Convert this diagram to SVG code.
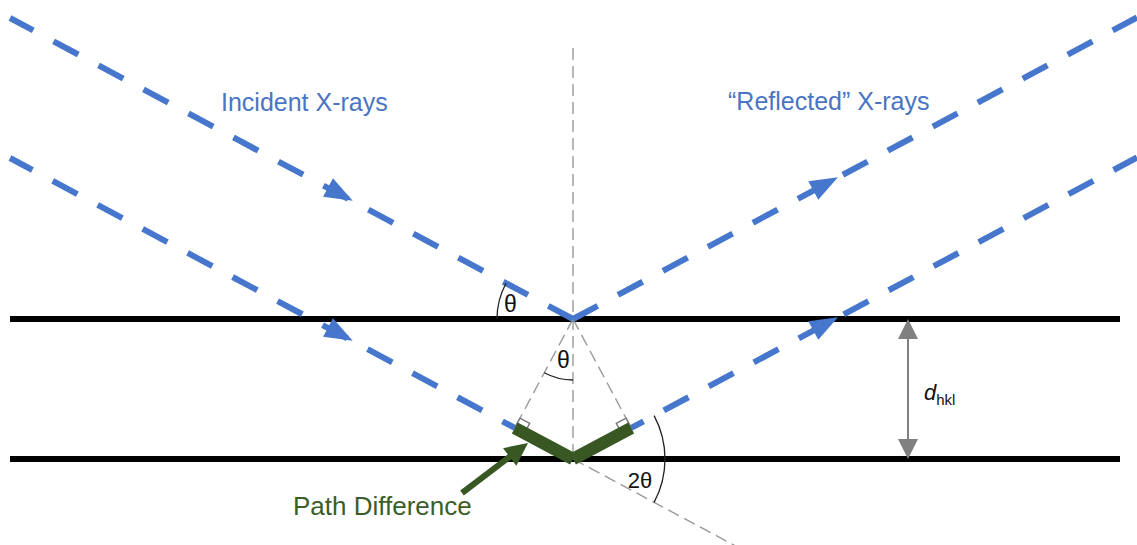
<svg xmlns="http://www.w3.org/2000/svg" width="1137" height="545" viewBox="0 0 1137 545">
<style>
.ray{fill:none;stroke:#4677CD;stroke-width:6;stroke-dasharray:28 23}
.plane{stroke:#000;stroke-width:6}
.guide{fill:none;stroke:#9a9a9a;stroke-width:1.4;stroke-dasharray:12 6}
.arc{fill:none;stroke:#222;stroke-width:1.3}
.lbl{font-family:"Liberation Sans",Arial,sans-serif}
.blue{fill:#4A74C4;font-size:25px}
.th{fill:#111;font-size:23px}
.green{fill:#3B5E27}
</style>
<defs>
<polygon id="ah" points="0,0 -28,-10.5 -28,10.5" fill="#4677CD"/>
</defs>
<rect width="1137" height="545" fill="#fff"/>
<g id="planes">
<line class="plane" x1="10" y1="319" x2="1120" y2="319"/>
<line class="plane" x1="10" y1="459" x2="1120" y2="459"/>
</g>
<g id="guides">
<line class="guide" x1="573" y1="48" x2="573" y2="459"/>
<line class="guide" x1="573" y1="319" x2="514.8" y2="427.9"/>
<line class="guide" x1="573" y1="319" x2="631.2" y2="427.9"/>
<line class="guide" x1="573" y1="459" x2="745" y2="551"/>
</g>
<g id="connectors">
<path class="ray" d="M573 319 L10 18"/>
<path class="ray" d="M514.8 427.9 L10 158" style="stroke-dashoffset:14"/>
<path class="ray" d="M573 319 L1137 17.5"/>
<path class="ray" d="M631.2 427.9 L1137 157.5" style="stroke-dashoffset:14"/>
<use href="#ah" transform="translate(352.7 200.7) rotate(28.13)"/>
<use href="#ah" transform="translate(352.7 340.7) rotate(28.13)"/>
<use href="#ah" transform="translate(838 177.3) rotate(-28.13)"/>
<use href="#ah" transform="translate(838 317.3) rotate(-28.13)"/>
</g>
<g id="right-angles" fill="#fff" stroke="#777" stroke-width="1.4">
<polygon points="514.8,427.9 520.0,418.2 529.7,423.4 524.5,433.1"/>
<polygon points="631.2,427.9 626.0,418.2 616.3,423.4 621.5,433.1"/>
</g>
<g id="path-difference">
<line x1="514.8" y1="427.9" x2="573" y2="459" stroke="#385723" stroke-width="12.5"/>
<line x1="631.2" y1="427.9" x2="573" y2="459" stroke="#385723" stroke-width="12.5"/>
<line x1="462" y1="493" x2="512" y2="455" stroke="#385723" stroke-width="6"/>
<polygon points="0,0 -23,-11 -23,11" fill="#385723" transform="translate(528 443) rotate(-37.2)"/>
<text class="lbl green" x="293" y="515" font-size="26">Path Difference</text>
</g>
<g id="angles">
<path class="arc" d="M497 319 A76 76 0 0 1 506 283.2"/>
<path class="arc" d="M573 380 A61 61 0 0 1 544.2 372.8"/>
<path class="arc" d="M654.1 415.6 A92 92 0 0 1 654.1 502.4"/>
<text class="lbl th" x="510.5" y="312" text-anchor="middle">θ</text>
<text class="lbl th" x="563.5" y="368" text-anchor="middle">θ</text>
<text class="lbl th" x="640" y="488" text-anchor="middle" style="font-size:22px">2θ</text>
</g>
<g id="spacing">
<line x1="908" y1="330" x2="908" y2="448" stroke="#808080" stroke-width="2"/>
<polygon points="908,319 898,339 918,339" fill="#808080"/>
<polygon points="908,459 898,439 918,439" fill="#808080"/>
<text class="lbl" x="924" y="400" fill="#111"><tspan font-size="22" font-style="italic">d</tspan><tspan font-size="15" dy="5">hkl</tspan></text>
</g>
<g id="labels">
<text class="lbl blue" x="221" y="111">Incident X-rays</text>
<text class="lbl blue" x="728" y="110">“Reflected” X-rays</text>
</g>
</svg>
